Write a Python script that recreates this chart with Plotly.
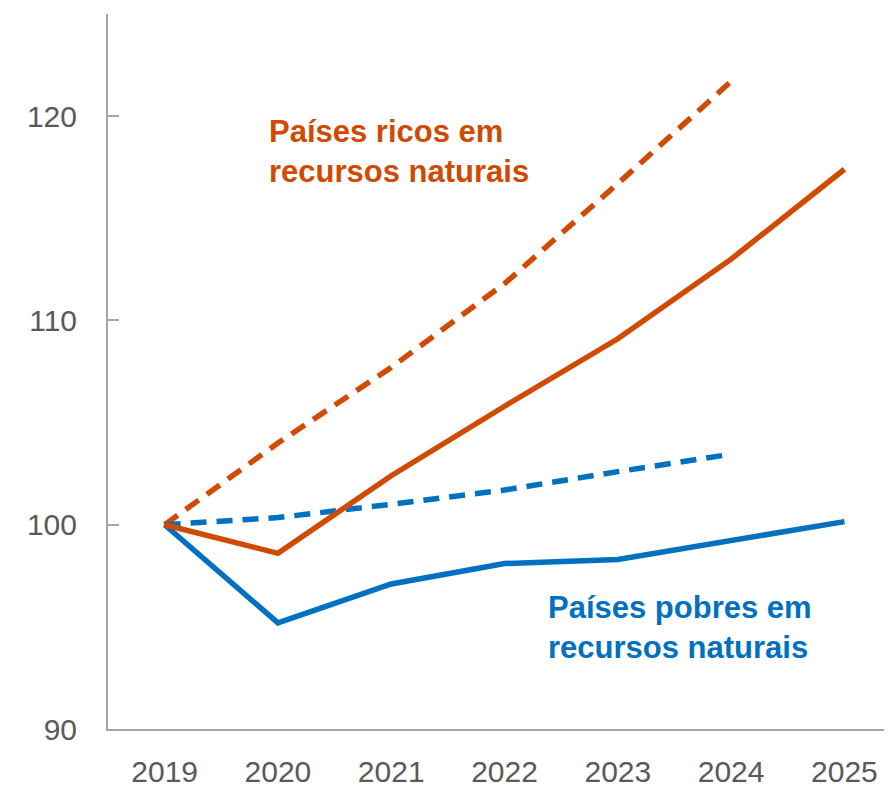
import plotly.graph_objects as go

years = [2019, 2020, 2021, 2022, 2023, 2024, 2025]
ricos_atual = [100, 98.6, 102.4, 105.8, 109.1, 113.0, 117.4]
ricos_prev = [100, 104.0, 107.7, 111.8, 116.7, 121.7]
pobres_atual = [100, 95.2, 97.1, 98.1, 98.3, 99.2, 100.15]
pobres_prev = [100, 100.35, 101.0, 101.7, 102.6, 103.45]
y_ticks = [90, 100, 110, 120]

ORANGE = "#D04A02"
BLUE = "#0070C0"
FONT = "Liberation Sans Narrow, Arial Narrow, Liberation Sans, sans-serif"

fig = go.Figure()
fig.add_trace(go.Scatter(x=years[:6], y=ricos_prev, mode="lines",
                         line=dict(color=ORANGE, width=5.5, dash="16px,10px"), hoverinfo="skip"))
fig.add_trace(go.Scatter(x=years[:6], y=pobres_prev, mode="lines",
                         line=dict(color=BLUE, width=5.5, dash="16px,10px"), hoverinfo="skip"))
fig.add_trace(go.Scatter(x=years, y=pobres_atual, mode="lines",
                         line=dict(color=BLUE, width=5.5), hoverinfo="skip"))
fig.add_trace(go.Scatter(x=years, y=ricos_atual, mode="lines",
                         line=dict(color=ORANGE, width=5.5), hoverinfo="skip"))

fig.add_annotation(x=2019.90, y=118.25, xref="x", yref="y", xanchor="left", yanchor="middle",
                   text="<b>Países ricos em<br>recursos naturais</b>", showarrow=False,
                   align="left", font=dict(family=FONT, size=31, color=ORANGE))
fig.add_annotation(x=2022.37, y=94.95, xref="x", yref="y", xanchor="left", yanchor="middle",
                   text="<b>Países pobres em<br>recursos naturais</b>", showarrow=False,
                   align="left", font=dict(family=FONT, size=31, color=BLUE))

fig.update_layout(
    width=884, height=780,
    margin=dict(l=100, r=0, t=6, b=55),
    plot_bgcolor="white", paper_bgcolor="white",
    showlegend=False,
    font=dict(family=FONT, color="#595959", size=30),
    xaxis=dict(range=[2018.5, 2025.42], tickmode="array", tickvals=years,
               ticktext=[str(y) for y in years], showgrid=False, zeroline=False,
               showline=True, linecolor="#A6A6A6", linewidth=2, ticks="",
               ticklabelstandoff=15, tickfont=dict(size=30, color="#595959")),
    yaxis=dict(range=[90, 125], tickmode="array", tickvals=y_ticks,
               showgrid=False, zeroline=False, showline=True, linecolor="#A6A6A6",
               linewidth=2, ticks="inside", ticklen=11, tickwidth=2, tickcolor="#A6A6A6",
               ticklabelstandoff=23, tickfont=dict(size=30, color="#595959")),
)

fig.write_html("out.html")
